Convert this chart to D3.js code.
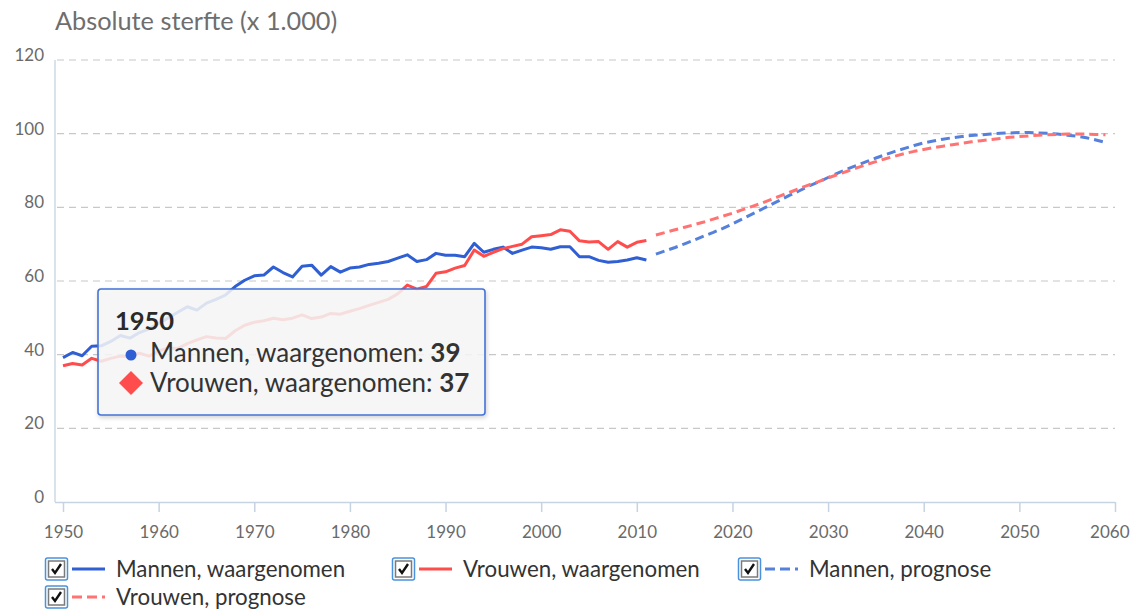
<!DOCTYPE html>
<html>
<head>
<meta charset="utf-8">
<script src="https://cdn.jsdelivr.net/npm/d3@7"></script>
<style>
  body { margin: 0; background: #fff; }
  svg { display: block; font-family: Lato, "Open Sans", sans-serif; }
</style>
</head>
<body>
<svg></svg>
<script>
// canvas
const svgSize = { width: 1146, height: 611 };
const plot = { left: 63, right: 1115, top: 60, bottom: 502, axisX: 55 };

// data (x 1.000)
const obsYears = d3.range(1950, 2012);
const progYears = d3.range(2012, 2060);
const menObs = [39.2, 40.6, 39.7, 42.3, 42.4, 43.6, 45.2, 44.5, 46.0, 47.0,
  48.5, 50.0, 51.5, 53.0, 52.1, 54.0, 55.0, 56.2, 58.5, 60.2,
  61.4, 61.6, 63.8, 62.3, 61.1, 64.0, 64.3, 61.6, 63.9, 62.4,
  63.5, 63.8, 64.5, 64.8, 65.3, 66.2, 67.1, 65.3, 65.8, 67.5,
  67.0, 67.0, 66.6, 70.2, 67.8, 68.6, 69.2, 67.5, 68.4, 69.2,
  69.0, 68.6, 69.3, 69.3, 66.6, 66.6, 65.6, 65.1, 65.3, 65.7,
  66.3, 65.7];
const womenObs = [37.0, 37.6, 37.2, 39.0, 38.2, 39.0, 39.6, 39.5, 40.4, 39.6,
  41.0, 41.8, 41.7, 43.0, 44.0, 44.9, 44.5, 44.4, 46.5, 48.0,
  48.8, 49.2, 49.9, 49.5, 49.9, 50.8, 49.8, 50.2, 51.2, 51.0,
  51.8, 52.5, 53.4, 54.2, 55.0, 56.5, 58.9, 57.8, 58.5, 62.1,
  62.5, 63.5, 64.2, 68.4, 66.7, 67.8, 68.8, 69.4, 70.0, 72.0,
  72.3, 72.6, 73.9, 73.5, 70.9, 70.6, 70.7, 68.6, 70.7, 69.2,
  70.5, 71.0];
const menProg = [67.3, 68.2, 69.1, 70.1, 71.1, 72.2, 73.2, 74.3, 75.5,
  76.8, 78.1, 79.4, 80.7, 82.0, 83.3, 84.5, 85.8, 86.9, 88.1,
  89.3, 90.4, 91.4, 92.4, 93.4, 94.3, 95.2, 96.0, 96.8, 97.5,
  98.0, 98.5, 98.9, 99.2, 99.5, 99.7, 99.9, 100.1, 100.2, 100.3,
  100.3, 100.2, 100.1, 99.9, 99.6, 99.3, 98.9, 98.3, 97.6];
const womenProg = [72.5, 73.2, 73.9, 74.6, 75.3, 76.0, 76.8, 77.6, 78.4,
  79.3, 80.2, 81.1, 82.1, 83.1, 84.1, 85.1, 86.1, 87.0, 88.0,
  88.9, 89.8, 90.7, 91.6, 92.4, 93.2, 93.9, 94.6, 95.2, 95.7,
  96.2, 96.6, 97.0, 97.4, 97.8, 98.1, 98.4, 98.7, 99.0, 99.2,
  99.4, 99.6, 99.7, 99.8, 99.9, 99.9, 99.9, 99.8, 99.7];
const seriesNames = ["Mannen, waargenomen", "Vrouwen, waargenomen", "Mannen, prognose", "Vrouwen, prognose"];
const xTicks = [1950, 1960, 1970, 1980, 1990, 2000, 2010, 2020, 2030, 2040, 2050, 2060];
const yTicks = [0, 20, 40, 60, 80, 100, 120];
const title = "Absolute sterfte (x 1.000)";

const series = [
  { name: seriesNames[0], years: obsYears, values: menObs, color: "#2f5fd3", dash: null },
  { name: seriesNames[1], years: obsYears, values: womenObs, color: "#ff4d4d", dash: null },
  { name: seriesNames[2], years: progYears, values: menProg, color: "#5580dc", dash: "9,5" },
  { name: seriesNames[3], years: progYears, values: womenProg, color: "#ff7373", dash: "9,5" }
];

const svg = d3.select("svg")
  .attr("width", svgSize.width)
  .attr("height", svgSize.height);

const x = d3.scaleLinear().domain([1950, 2060]).range([plot.left, plot.right]);
const y = d3.scaleLinear().domain([0, 120]).range([plot.bottom, plot.top]);

// title
svg.append("text")
  .attr("x", 55).attr("y", 30)
  .attr("fill", "#6e6e6e")
  .style("font-size", "25.3px")
  .text(title);

// grid
const grid = svg.append("g");
grid.selectAll("line")
  .data(yTicks.filter(d => d > 0))
  .enter().append("line")
  .attr("x1", plot.axisX + 2).attr("x2", plot.right)
  .attr("y1", d => y(d)).attr("y2", d => y(d))
  .attr("stroke", "#c8c8c8")
  .attr("stroke-width", 1.2)
  .attr("stroke-dasharray", "7,5");

// y labels
svg.append("g").selectAll("text")
  .data(yTicks)
  .enter().append("text")
  .attr("x", 44).attr("y", d => y(d) + 1)
  .attr("text-anchor", "end")
  .attr("fill", "#6a6a6a")
  .style("font-size", "17px")
  .text(d => d);

// y axis line
svg.append("line")
  .attr("x1", plot.axisX).attr("x2", plot.axisX)
  .attr("y1", plot.top).attr("y2", plot.bottom)
  .attr("stroke", "#c6d3e2").attr("stroke-width", 1.3);

// x axis
const xAxis = d3.axisBottom(x).tickValues(xTicks).tickFormat(d3.format("d")).tickSize(10).tickSizeOuter(0);
const gx = svg.append("g")
  .attr("transform", `translate(0,${plot.bottom})`)
  .call(xAxis);
gx.select(".domain").attr("d", `M${plot.axisX},0.5H${plot.right}`).attr("stroke", "#c6d3e2").attr("stroke-width", 1.5);
gx.selectAll(".tick line").attr("stroke", "#c6d3e2").attr("stroke-width", 1.5);
gx.selectAll(".tick text")
  .attr("fill", "#6a6a6a")
  .attr("dy", null).attr("y", 36)
  .style("font-size", "17px")
  .style("font-family", "Lato, sans-serif");
gx.selectAll(".tick").filter(d => d === 2060).select("text").attr("text-anchor", "end").attr("x", 14);

// lines
const line = d3.line()
  .x(d => x(d[0]))
  .y(d => y(d[1]));

svg.append("g").selectAll("path")
  .data(series)
  .enter().append("path")
  .attr("d", s => line(s.years.map((yr, i) => [yr, s.values[i]])))
  .attr("fill", "none")
  .attr("stroke", s => s.color)
  .attr("stroke-width", 3)
  .attr("stroke-linejoin", "round")
  .attr("stroke-dasharray", s => s.dash);

// tooltip
const defs = svg.append("defs");
const f = defs.append("filter").attr("id", "sh").attr("x", "-10%").attr("y", "-10%").attr("width", "130%").attr("height", "140%");
f.append("feDropShadow").attr("dx", 1).attr("dy", 2).attr("stdDeviation", 2).attr("flood-color", "#000").attr("flood-opacity", 0.2);

const tip = svg.append("g").attr("transform", "translate(98,289)");
tip.append("rect")
  .attr("width", 387).attr("height", 126).attr("rx", 3)
  .attr("fill", "rgba(248,248,248,0.84)")
  .attr("stroke", "#4473d8").attr("stroke-width", 1.6)
  .attr("filter", "url(#sh)");
tip.append("text")
  .attr("x", 17).attr("y", 41)
  .attr("fill", "#2a2a2a").style("font-size", "25.5px").style("font-weight", "bold")
  .text(obsYears[0]);
tip.append("circle").attr("cx", 33).attr("cy", 66).attr("r", 5.5).attr("fill", series[0].color);
tip.append("path")
  .attr("d", "M33,82 L45,94 L33,106 L21,94 Z")
  .attr("fill", series[1].color);
[[series[0], menObs[0], 73], [series[1], womenObs[0], 103]].forEach(([s, v, yy]) => {
  const t = tip.append("text").attr("x", 52).attr("y", yy).attr("fill", "#333").style("font-size", "26px");
  t.append("tspan").text(s.name + ": ");
  t.append("tspan").style("font-weight", "bold").text(Math.round(v));
});

// legend
const legendPos = [[45, 569], [392, 569], [738, 569], [45, 597]];
const leg = svg.append("g").selectAll("g")
  .data(series)
  .enter().append("g")
  .attr("transform", (d, i) => `translate(${legendPos[i][0]},${legendPos[i][1]})`);
leg.append("rect")
  .attr("x", 0.5).attr("y", -11).attr("width", 22).attr("height", 22).attr("rx", 2)
  .attr("fill", "#fff").attr("stroke", "#4a92dc").attr("stroke-width", 1.5);
leg.append("rect")
  .attr("x", 3.5).attr("y", -8).attr("width", 16).attr("height", 16)
  .attr("fill", "#fff").attr("stroke", "#7a7a7a").attr("stroke-width", 1.5);
leg.append("path")
  .attr("d", "M7,0 L10,4 L16,-5")
  .attr("fill", "none").attr("stroke", "#111").attr("stroke-width", 2.4);
leg.append("line")
  .attr("x1", 27).attr("x2", 60).attr("y1", 0).attr("y2", 0)
  .attr("stroke", d => d.color).attr("stroke-width", 3)
  .attr("stroke-dasharray", d => d.dash ? "10,5" : null);
leg.append("text")
  .attr("x", 71).attr("y", 8)
  .attr("fill", "#333")
  .style("font-size", "22.3px")
  .text(d => d.name);
</script>
</body>
</html>
